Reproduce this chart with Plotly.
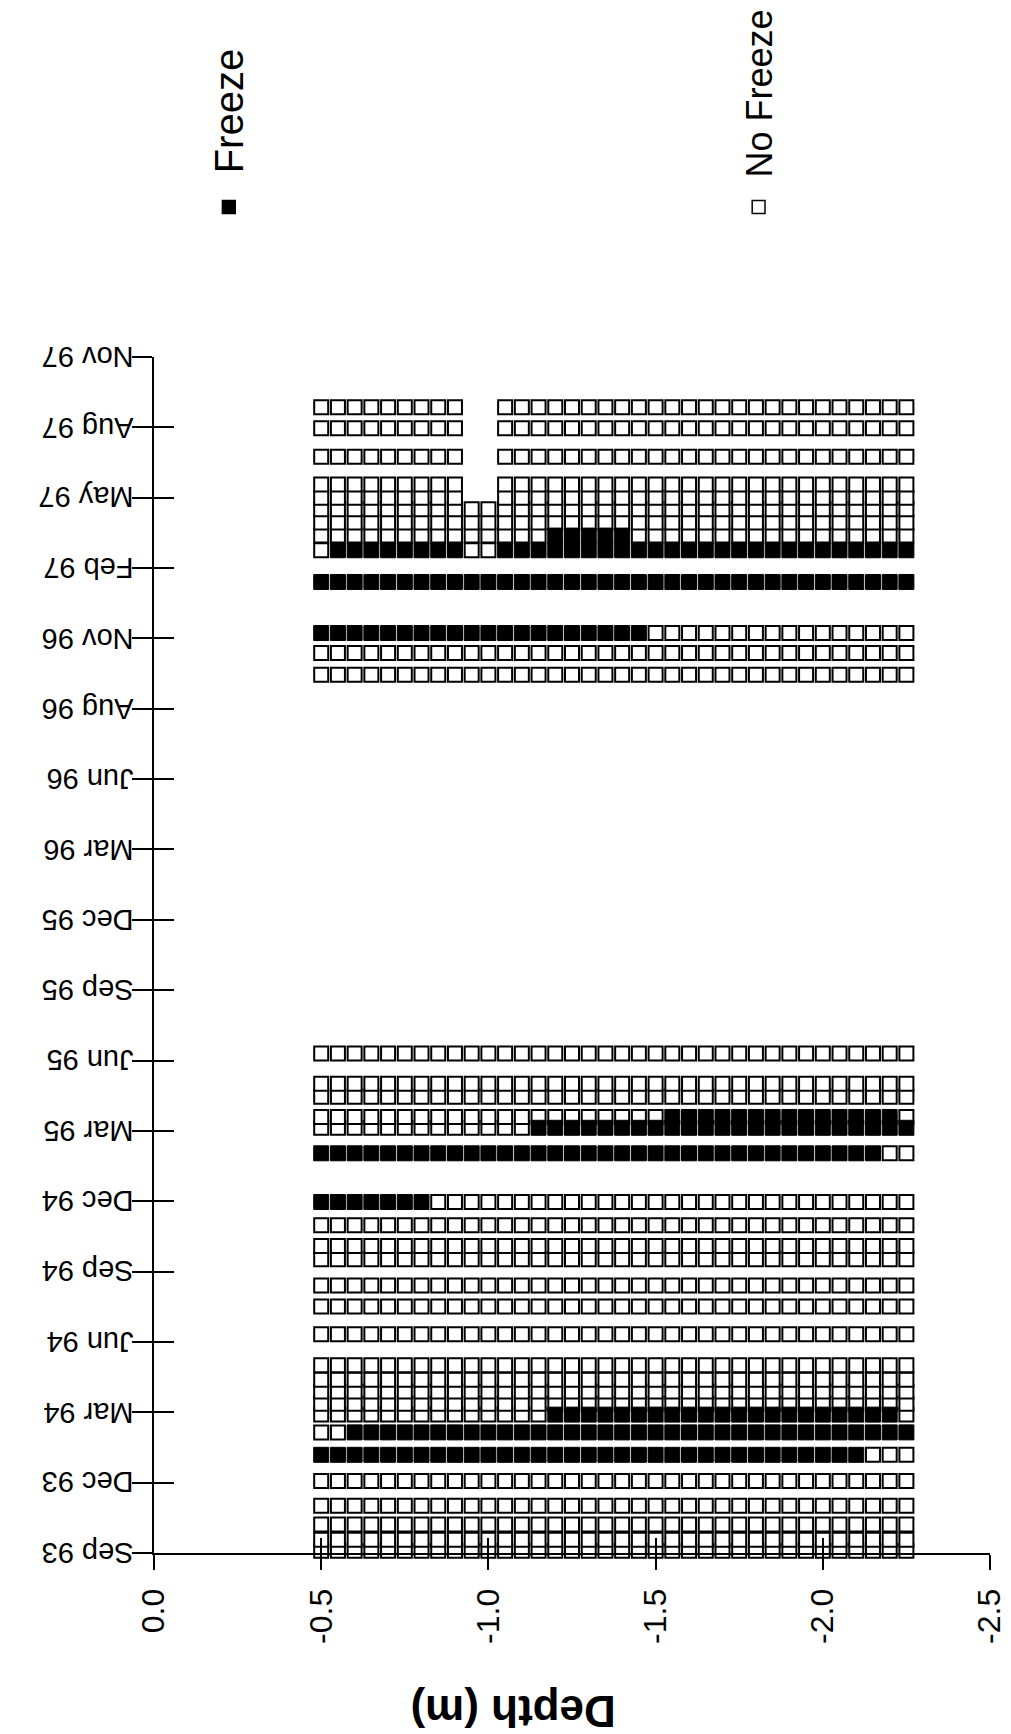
import plotly.graph_objects as go

# ---------------- data ----------------
# depth of each sensor column (m)
depths = [-0.50, -0.55, -0.60, -0.65, -0.70, -0.75, -0.80, -0.85, -0.90, -0.95,
          -1.00, -1.05, -1.10, -1.15, -1.20, -1.25, -1.30, -1.35, -1.40, -1.45,
          -1.50, -1.55, -1.60, -1.65, -1.70, -1.75, -1.80, -1.85, -1.90, -1.95,
          -2.00, -2.05, -2.10, -2.15, -2.20, -2.25]

# survey dates as days since 1 Sep 1993
survey_day = [3, 17, 37, 61, 93, 127, 156, 179, 193, 209, 224, 243, 283, 319, 346,
              380, 397, 424, 454, 517, 550, 564, 590, 607, 646,
              1136, 1164, 1190, 1256, 1297, 1316, 1333, 1350, 1365, 1382, 1418, 1455, 1482]

# status per depth column: F = freeze, N = no freeze, . = no reading
status_rows = [
    "NNNNN NNNNN NNNNN NNNNN NNNNN NNNNN NNNNN N",  # 3
    "NNNNN NNNNN NNNNN NNNNN NNNNN NNNNN NNNNN N",  # 17
    "NNNNN NNNNN NNNNN NNNNN NNNNN NNNNN NNNNN N",  # 37
    "NNNNN NNNNN NNNNN NNNNN NNNNN NNNNN NNNNN N",  # 61
    "NNNNN NNNNN NNNNN NNNNN NNNNN NNNNN NNNNN N",  # 93
    "FFFFF FFFFF FFFFF FFFFF FFFFF FFFFF FFFNN N",  # 127
    "NNFFF FFFFF FFFFF FFFFF FFFFF FFFFF FFFFF F",  # 156
    "NNNNN NNNNN NNNNF FFFFF FFFFF FFFFF FFFFF N",  # 179
    "NNNNN NNNNN NNNNN NNNNN NNNNN NNNNN NNNNN N",  # 193
    "NNNNN NNNNN NNNNN NNNNN NNNNN NNNNN NNNNN N",  # 209
    "NNNNN NNNNN NNNNN NNNNN NNNNN NNNNN NNNNN N",  # 224
    "NNNNN NNNNN NNNNN NNNNN NNNNN NNNNN NNNNN N",  # 243
    "NNNNN NNNNN NNNNN NNNNN NNNNN NNNNN NNNNN N",  # 283
    "NNNNN NNNNN NNNNN NNNNN NNNNN NNNNN NNNNN N",  # 319
    "NNNNN NNNNN NNNNN NNNNN NNNNN NNNNN NNNNN N",  # 346
    "NNNNN NNNNN NNNNN NNNNN NNNNN NNNNN NNNNN N",  # 380
    "NNNNN NNNNN NNNNN NNNNN NNNNN NNNNN NNNNN N",  # 397
    "NNNNN NNNNN NNNNN NNNNN NNNNN NNNNN NNNNN N",  # 424
    "FFFFF FFNNN NNNNN NNNNN NNNNN NNNNN NNNNN N",  # 454
    "FFFFF FFFFF FFFFF FFFFF FFFFF FFFFF FFFFN N",  # 517
    "NNNNN NNNNN NNNFF FFFFF FFFFF FFFFF FFFFF F",  # 550
    "NNNNN NNNNN NNNNN NNNNN NFFFF FFFFF FFFFF N",  # 564
    "NNNNN NNNNN NNNNN NNNNN NNNNN NNNNN NNNNN N",  # 590
    "NNNNN NNNNN NNNNN NNNNN NNNNN NNNNN NNNNN N",  # 607
    "NNNNN NNNNN NNNNN NNNNN NNNNN NNNNN NNNNN N",  # 646
    "NNNNN NNNNN NNNNN NNNNN NNNNN NNNNN NNNNN N",  # 1136
    "NNNNN NNNNN NNNNN NNNNN NNNNN NNNNN NNNNN N",  # 1164
    "FFFFF FFFFF FFFFF FFFFF NNNNN NNNNN NNNNN N",  # 1190
    "FFFFF FFFFF FFFFF FFFFF FFFFF FFFFF FFFFF F",  # 1256
    "NFFFF FFFFN NFFFF FFFFF FFFFF FFFFF FFFFF F",  # 1297
    "NNNNN NNNNN NNNNF FFFFN NNNNN NNNNN NNNNN N",  # 1316
    "NNNNN NNNNN NNNNN NNNNN NNNNN NNNNN NNNNN N",  # 1333
    "NNNNN NNNNN NNNNN NNNNN NNNNN NNNNN NNNNN N",  # 1350
    "NNNNN NNNN. .NNNN NNNNN NNNNN NNNNN NNNNN N",  # 1365
    "NNNNN NNNN. .NNNN NNNNN NNNNN NNNNN NNNNN N",  # 1382
    "NNNNN NNNN. .NNNN NNNNN NNNNN NNNNN NNNNN N",  # 1418
    "NNNNN NNNN. .NNNN NNNNN NNNNN NNNNN NNNNN N",  # 1455
    "NNNNN NNNN. .NNNN NNNNN NNNNN NNNNN NNNNN N",  # 1482
]

# date axis ticks (days since 1 Sep 1993) and labels
tick_day = [0, 91, 182, 273, 364, 455, 546, 637, 728, 819, 910, 1001, 1092,
            1183, 1274, 1365, 1456, 1547]
tick_text = ["Sep 93", "Dec 93", "Mar 94", "Jun 94", "Sep 94", "Dec 94", "Mar 95",
             "Jun 95", "Sep 95", "Dec 95", "Mar 96", "Jun 96", "Aug 96", "Nov 96",
             "Feb 97", "May 97", "Aug 97", "Nov 97"]

# depth axis ticks
depth_ticks = [0.0, -0.5, -1.0, -1.5, -2.0, -2.5]
depth_tick_text = ["0.0", "-0.5", "-1.0", "-1.5", "-2.0", "-2.5"]

# ---------------- build point lists ----------------
fx, fy, nx, ny = [], [], [], []
for day, row in zip(survey_day, status_rows):
    codes = row.replace(" ", "")
    for d, c in zip(depths, codes):
        if c == "F":
            fx.append(d); fy.append(day)
        elif c == "N":
            nx.append(d); ny.append(day)

W, H = 1011, 1734
L, R, T, B = 146, 16, 349, 189
PW, PH = W - L - R, H - T - B

def pxx(px):
    return (px - L) / PW

def pxy(py):
    return (H - B - py) / PH

FONT = "Liberation Sans, Arial, Helvetica, sans-serif"

fig = go.Figure()
fig.add_trace(go.Scatter(
    x=nx, y=ny, mode="markers", name="No Freeze", cliponaxis=False,
    marker=dict(symbol="square", size=14, color="white",
                line=dict(color="black", width=2)),
    showlegend=False))
fig.add_trace(go.Scatter(
    x=fx, y=fy, mode="markers", name="Freeze", cliponaxis=False,
    marker=dict(symbol="square", size=15, color="black",
                line=dict(color="black", width=1)),
    showlegend=False))
# dummy trace for the overlay axes carrying the inner half of the tick marks
fig.add_trace(go.Scatter(x=[None], y=[None], xaxis="x2", yaxis="y2",
                         showlegend=False, hoverinfo="skip"))

axis_common = dict(showgrid=False, zeroline=False, color="black")

fig.update_layout(
    width=W, height=H,
    margin=dict(l=L, r=R, t=T, b=B, pad=0),
    paper_bgcolor="white", plot_bgcolor="white",
    font=dict(family=FONT, color="black"),
    showlegend=False,
    xaxis=dict(range=[0, -2.5], tickmode="array", tickvals=depth_ticks,
               ticktext=depth_tick_text, tickangle=-90, ticks="outside",
               ticklen=15, tickwidth=2, tickcolor="black",
               showline=True, linewidth=2, linecolor="black",
               tickfont=dict(size=32, family=FONT), ticklabelstandoff=6,
               ticklabeloverflow="allow", **axis_common),
    yaxis=dict(range=[0, 1547], tickmode="array", tickvals=tick_day,
               showticklabels=False, ticks="outside",
               ticklen=20, tickwidth=2, tickcolor="black",
               showline=True, linewidth=2, linecolor="black",
               **axis_common),
    xaxis2=dict(range=[0, -2.5], overlaying="x", anchor="y2", side="bottom",
                tickmode="array", tickvals=depth_ticks, ticks="inside",
                ticklen=15, tickwidth=2, tickcolor="black",
                showticklabels=False, showline=False, **axis_common),
    yaxis2=dict(range=[0, 1547], overlaying="y", anchor="x2", side="left",
                tickmode="array", tickvals=tick_day, ticks="inside",
                ticklen=20, tickwidth=2, tickcolor="black",
                showticklabels=False, showline=False, **axis_common),
)

# date tick labels, drawn upside down as in the reference
for day, label in zip(tick_day, tick_text):
    fig.add_annotation(text=label, xref="paper", yref="y",
                       x=pxx(127), y=day, xanchor="right", yanchor="middle",
                       textangle=180, showarrow=False,
                       font=dict(size=29, family=FONT, color="black"))

# legend (vertical, reading upwards)
sq = 13
for cx, fill in [(222, "black"), (760, "white")]:
    fig.add_shape(type="rect", xref="paper", yref="paper",
                  x0=pxx(cx - sq / 2), x1=pxx(cx + sq / 2),
                  y0=pxy(199 + sq / 2), y1=pxy(199 - sq / 2),
                  line=dict(color="black", width=1.5), fillcolor=fill)
fig.add_annotation(text="Freeze", xref="paper", yref="paper",
                   x=pxx(222), y=pxy(167), xanchor="center", yanchor="bottom",
                   textangle=-90, showarrow=False,
                   font=dict(size=40, family=FONT, color="black"))
fig.add_annotation(text="No Freeze", xref="paper", yref="paper",
                   x=pxx(760), y=pxy(172), xanchor="center", yanchor="bottom",
                   textangle=-90, showarrow=False,
                   font=dict(size=36, family=FONT, color="black"))

# depth axis title (upside down as in the reference)
fig.add_annotation(text="<b>Depth (m)</b>", xref="paper", yref="paper",
                   x=pxx(511), y=pxy(1704), xanchor="center", yanchor="middle",
                   textangle=180, showarrow=False,
                   font=dict(size=44, family=FONT, color="black"))

fig.write_html("out.html")
